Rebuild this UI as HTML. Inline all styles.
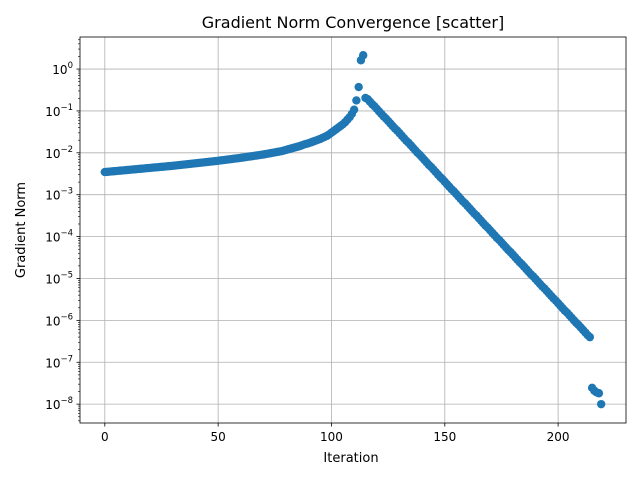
<!DOCTYPE html>
<html><head><meta charset="utf-8"><style>
body{margin:0;background:#fff}
svg{display:block;font-family:"DejaVu Sans","Liberation Sans",sans-serif}
</style></head><body>
<svg id="chart" width="640" height="480" viewBox="0 0 640 480">
<rect width="640" height="480" fill="#fff"/>
<text x="353" y="28" text-anchor="middle" font-size="16">Gradient Norm Convergence [scatter]</text>
<g id="grid"></g>
<g id="marks"></g>
<g id="axes"></g>
<text x="351" y="462" text-anchor="middle" font-size="13">Iteration</text>
<text x="25" y="230" text-anchor="middle" font-size="13" transform="rotate(-90 25 230)">Gradient Norm</text>
</svg>
<script>
const xTicks=[0,50,100,150,200];
const yTickExps=[0,-1,-2,-3,-4,-5,-6,-7,-8];
const logNorm=[
-2.46,-2.455,-2.45,-2.445,-2.44,-2.435,-2.43,-2.425,-2.42,-2.415,
-2.41,-2.405,-2.40,-2.395,-2.39,-2.385,-2.38,-2.375,-2.37,-2.365,
-2.36,-2.355,-2.35,-2.345,-2.34,-2.335,-2.33,-2.325,-2.32,-2.315,
-2.31,-2.304,-2.298,-2.292,-2.286,-2.28,-2.274,-2.268,-2.262,-2.256,
-2.25,-2.244,-2.238,-2.232,-2.226,-2.22,-2.214,-2.208,-2.202,-2.196,
-2.19,-2.183,-2.176,-2.169,-2.162,-2.155,-2.148,-2.141,-2.134,-2.127,
-2.12,-2.112,-2.104,-2.096,-2.088,-2.08,-2.072,-2.064,-2.056,-2.048,
-2.04,-2.03,-2.02,-2.01,-2.0,-1.99,-1.98,-1.97,-1.96,-1.945,
-1.93,-1.915,-1.90,-1.885,-1.87,-1.855,-1.84,-1.82,-1.80,-1.785,
-1.77,-1.75,-1.73,-1.71,-1.69,-1.67,-1.645,-1.62,-1.595,-1.56,
-1.52,-1.48,-1.44,-1.40,-1.36,-1.32,-1.27,-1.21,-1.15,-1.07,-0.97,-0.75,
-0.43,0.21,0.33,-0.69,
-0.72,-0.78,-0.84,-0.89,-0.95,-1.01,-1.07,-1.13,-1.18,-1.24,
-1.30,-1.36,-1.42,-1.47,-1.53,-1.59,-1.65,-1.71,-1.76,-1.82,
-1.88,-1.94,-2.00,-2.05,-2.11,-2.17,-2.23,-2.29,-2.34,-2.40,
-2.46,-2.52,-2.58,-2.63,-2.69,-2.75,-2.81,-2.87,-2.92,-2.98,
-3.04,-3.10,-3.16,-3.21,-3.27,-3.33,-3.39,-3.45,-3.50,-3.56,
-3.62,-3.68,-3.74,-3.79,-3.85,-3.91,-3.97,-4.03,-4.08,-4.14,
-4.20,-4.26,-4.32,-4.37,-4.43,-4.49,-4.55,-4.61,-4.66,-4.72,
-4.78,-4.84,-4.90,-4.95,-5.01,-5.07,-5.13,-5.19,-5.24,-5.30,
-5.36,-5.42,-5.48,-5.53,-5.59,-5.65,-5.71,-5.77,-5.82,-5.88,
-5.94,-6.00,-6.06,-6.11,-6.17,-6.23,-6.29,-6.35,-6.40,
-7.61,-7.68,-7.72,-7.74,-8.0
];
const L=80,R=626,T=37,B=423;
const xMin=-10.95,xMax=229.95,yMin=-8.45,yMax=0.765;
const sx=v=>L+(v-xMin)/(xMax-xMin)*(R-L);
const sy=e=>B-(e-yMin)/(yMax-yMin)*(B-T);
const NS="http://www.w3.org/2000/svg";
function mk(tag,attrs,parent){const e=document.createElementNS(NS,tag);for(const k in attrs)e.setAttribute(k,attrs[k]);parent.appendChild(e);return e;}
const grid=document.getElementById('grid'),marks=document.getElementById('marks'),axes=document.getElementById('axes');
xTicks.forEach(t=>{const x=sx(t);
 const g=mk('line',{x1:x,x2:x,y1:T,y2:B,stroke:'#b0b0b0','stroke-width':0.8},grid);
 
 
 mk('line',{x1:x,x2:x,y1:B,y2:B+3.5,stroke:'#000','stroke-width':0.8},axes);
 const tx=mk('text',{x:x,y:B+18,'text-anchor':'middle','font-size':12},axes);tx.textContent=t;
 
 
});
yTickExps.forEach(e=>{const y=sy(e);
 const g=mk('line',{x1:L,x2:R,y1:y,y2:y,stroke:'#b0b0b0','stroke-width':0.8},grid);
 
 
 mk('line',{x1:L-3.5,x2:L,y1:y,y2:y,stroke:'#000','stroke-width':0.8},axes);
 const tx=mk('text',{x:L-7,y:y+5,'text-anchor':'end','font-size':12},axes);
 
 
 const a=mk('tspan',{},tx);a.textContent='10';
 const b=mk('tspan',{dy:-6,'font-size':8.5},tx);b.textContent=String(e).replace('-','\u2212');
});
for(let d=-9;d<=0;d++){for(let m=2;m<=9;m++){const e=d+Math.log10(m);if(e<yMin||e>yMax)continue;const y=sy(e);
 mk('line',{x1:L-2,x2:L,y1:y,y2:y,stroke:'#000','stroke-width':0.6},axes);}}
mk('rect',{x:L,y:T,width:R-L,height:B-T,fill:'none',stroke:'#000','stroke-width':0.8},axes);
logNorm.forEach((v,i)=>{
 const c=mk('circle',{cx:sx(i),cy:sy(v),r:4.2,fill:'#1f77b4'},marks);
 
 
});
</script>
</body></html>
